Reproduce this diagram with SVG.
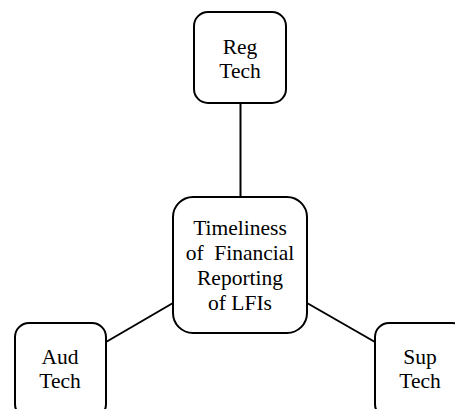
<svg xmlns="http://www.w3.org/2000/svg" width="455" height="409" viewBox="0 0 455 409">
<style>
.box{fill:#fff;stroke:#000;stroke-width:2}
.lbl{font-family:"Liberation Serif","Times New Roman",serif;font-size:21.5px;fill:#000;text-anchor:middle}
.conn{stroke:#000;stroke-width:2;fill:none}
</style>
<rect width="455" height="409" fill="#fff"/>
<g id="connectors">
<line class="conn" x1="240.5" y1="104" x2="240.5" y2="197"/>
<line class="conn" x1="106" y1="342" x2="173" y2="303"/>
<line class="conn" x1="307" y1="303" x2="375" y2="342"/>
</g>
<g id="regtech">
<rect class="box" x="194" y="12" width="92" height="91" rx="14"/>
<text class="lbl" x="240" y="54">Reg</text>
<text class="lbl" x="240" y="78">Tech</text>
</g>
<g id="center">
<rect class="box" x="173" y="197" width="134" height="136" rx="20"/>
<text class="lbl" x="240" y="235">Timeliness</text>
<text class="lbl" x="240" y="260" xml:space="preserve">of  Financial</text>
<text class="lbl" x="240" y="285">Reporting</text>
<text class="lbl" x="240" y="310">of LFIs</text>
</g>
<g id="audtech">
<rect class="box" x="15" y="323" width="91" height="95" rx="14"/>
<text class="lbl" x="60" y="364">Aud</text>
<text class="lbl" x="60" y="388">Tech</text>
</g>
<g id="suptech">
<rect class="box" x="375" y="323" width="91" height="95" rx="14"/>
<text class="lbl" x="420" y="364">Sup</text>
<text class="lbl" x="420" y="388">Tech</text>
</g>
</svg>
